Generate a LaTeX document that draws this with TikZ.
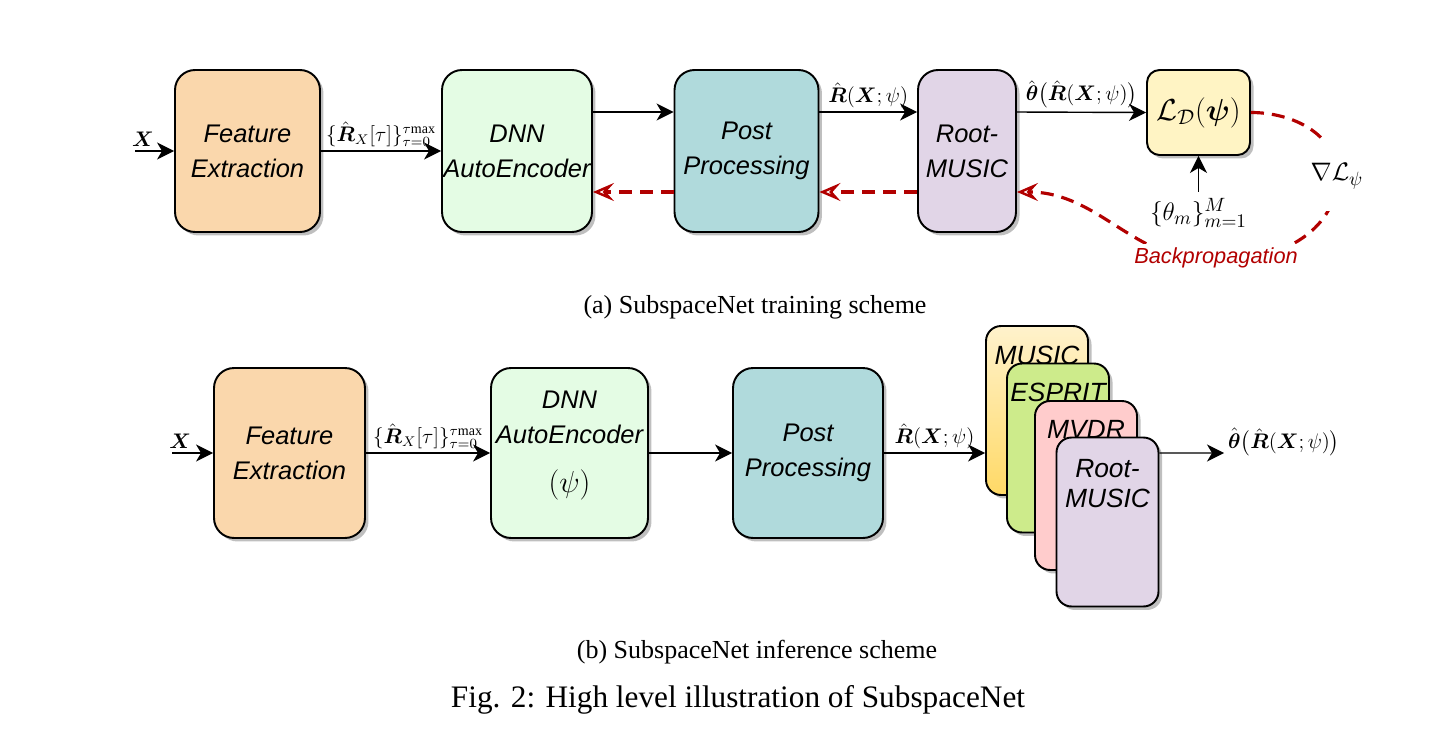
\documentclass[tikz,border=0pt]{standalone}
\usepackage{amsmath}
\usepackage{fontspec}
\setmainfont{Liberation Serif}
\setsansfont{Liberation Sans}
\usetikzlibrary{arrows.meta,shadows}
\definecolor{featfill}{HTML}{FAD7AC}
\definecolor{dnnfill}{HTML}{E4FCE4}
\definecolor{postfill}{HTML}{B0DADC}
\definecolor{rootfill}{HTML}{E1D5E7}
\definecolor{lossfill}{HTML}{FFF4C4}
\definecolor{musictop}{HTML}{FFF2CC}
\definecolor{musicbot}{HTML}{FFD966}
\definecolor{espritfill}{HTML}{CDEB8B}
\definecolor{mvdrfill}{HTML}{FFCCCC}
\definecolor{bpred}{HTML}{B20000}
\begin{document}
\begin{tikzpicture}[x=0.02cm,y=-0.02cm,
    block/.style={draw,line width=1.1pt,rounded corners=0.4cm,align=center,inner sep=0pt,
      font=\sffamily\itshape\fontsize{14.5}{20}\selectfont,
      drop shadow={shadow xshift=0.07cm,shadow yshift=-0.07cm,fill=black!50,opacity=0.5}},
    algo/.style={block,rounded corners=0.3cm,minimum width=2.04cm,minimum height=3.38cm},
    algolabel/.style={anchor=center,align=center,font=\sffamily\itshape\fontsize{15}{17.5}\selectfont},
    flow/.style={-{Stealth[length=0.34cm,width=0.34cm,inset=0.1cm]},line width=0.8pt},
    back/.style={-{Stealth[open,length=0.42cm,width=0.36cm,inset=0.16cm,line width=1.4pt]},
      draw=bpred,line width=1.8pt,dash pattern=on 0.26cm off 0.16cm},
    lab/.style={font=\fontsize{12}{14}\selectfont,inner sep=2pt},
    biglab/.style={font=\fontsize{15}{17}\selectfont},
    subcap/.style={font=\fontsize{14.8}{17}\selectfont}]
  \useasboundingbox (0,0) rectangle (1450,730);

  \node[block,fill=featfill,minimum width=2.9cm,minimum height=3.24cm] (fe) at (247.5,151) {Feature\\Extraction};
  \node[block,fill=dnnfill,minimum width=3.0cm,minimum height=3.24cm] (dnn) at (517,151) {DNN\\AutoEncoder};
  \node[block,fill=postfill,minimum width=2.88cm,minimum height=3.24cm] (post) at (746.5,151) {Post\\Processing};
  \node[block,fill=rootfill,minimum width=1.96cm,minimum height=3.24cm] (rm) at (967,151) {Root-\\MUSIC};
  \node[block,fill=lossfill,rounded corners=0.25cm,minimum width=2.06cm,minimum height=1.7cm,
    font=\fontsize{17}{20}\selectfont] (loss) at (1198.5,112.5) {$\mathcal{L}_{\mathcal{D}}(\boldsymbol{\psi})$};
  \node[biglab] (thetas) at (1198.5,213) {$\{\theta_m\}_{m=1}^{M}$};
  \coordinate (xin) at (135,151);
  \coordinate (gpt) at (1337,176);
  \coordinate (bpt) at (1216,262);

  \begin{scope}[flow]
    \draw (xin) -- node[lab,above,pos=0.2] {$\boldsymbol{X}$} (fe);
    \draw (fe) -- node[lab,above] {$\{\hat{\boldsymbol{R}}_X[\tau]\}_{\tau=0}^{\tau\mathrm{max}}$} (dnn);
    \draw ([yshift=0.78cm]dnn.east) -- ([yshift=0.78cm]post.west);
    \draw ([yshift=0.78cm]post.east) -- node[lab,above] {$\hat{\boldsymbol{R}}(\boldsymbol{X};\psi)$} ([yshift=0.78cm]rm.west);
    \draw ([yshift=0.78cm]rm.east) -- node[lab,above] {$\hat{\boldsymbol{\theta}}\big(\hat{\boldsymbol{R}}(\boldsymbol{X};\psi)\big)$} (loss.west);
    \draw (thetas) -- (loss.south);
  \end{scope}
  \begin{scope}[back]
    \draw ([yshift=-0.82cm]post.west) -- ([yshift=-0.82cm]dnn.east);
    \draw ([yshift=-0.82cm]rm.west) -- ([yshift=-0.82cm]post.east);
    \draw (loss.east) to[out=0,in=90] (gpt) to[out=-90,in=0] (bpt) to[out=180,in=0] ([yshift=-0.82cm]rm.east);
  \end{scope}
  \node[biglab,fill=white,inner xsep=2pt,inner ysep=0.45cm] (grad) at (gpt) {$\nabla\mathcal{L}_\psi$};
  \node[fill=white,text=bpred,inner sep=2pt,font=\sffamily\itshape\fontsize{12.4}{14}\selectfont] (bp) at (1216,258) {Backpropagation};
  \node[subcap] (capa) at (755,307) {(a) SubspaceNet training scheme};

  \node[block,fill=featfill,minimum width=3.02cm,minimum height=3.4cm] (fe2) at (289.5,453) {Feature\\Extraction};
  \node[block,fill=dnnfill,minimum width=3.14cm,minimum height=3.4cm,text depth=0.45cm] (dnn2) at (569.5,453)
    {DNN\\AutoEncoder\\[0.28cm]{\upshape\fontsize{17}{20}\selectfont$(\psi)$}};
  \node[block,fill=postfill,minimum width=3.0cm,minimum height=3.4cm] (post2) at (808,453) {Post\\Processing};
  \node[algo,top color=musictop,bottom color=musicbot,label={[algolabel,yshift=-0.6cm]north:MUSIC}] (music) at (1037,410.5) {};
  \node[algo,fill=espritfill,label={[algolabel,yshift=-0.6cm]north:ESPRIT}] (esprit) at (1058,448) {};
  \node[algo,fill=mvdrfill,label={[algolabel,yshift=-0.58cm]north:MVDR}] (mvdr) at (1086,485.5) {};
  \node[algo,fill=rootfill,label={[algolabel,yshift=-0.94cm]north:{Root-\\MUSIC}}] (rm2) at (1107.5,522) {};
  \coordinate (xin2) at (172,453);
  \coordinate (outpt) at (1224,453);

  \begin{scope}[flow]
    \draw (xin2) -- node[lab,above,pos=0.2] {$\boldsymbol{X}$} (fe2);
    \draw (fe2) -- node[lab,above] {$\{\hat{\boldsymbol{R}}_X[\tau]\}_{\tau=0}^{\tau\mathrm{max}}$} (dnn2);
    \draw (dnn2) -- (post2);
    \draw (post2) -- node[lab,above] {$\hat{\boldsymbol{R}}(\boldsymbol{X};\psi)$} (post2 -| music.west);
    \draw ([yshift=1.38cm]rm2.east) -- (outpt) node[lab,anchor=west,yshift=0.22cm] {$\hat{\boldsymbol{\theta}}\big(\hat{\boldsymbol{R}}(\boldsymbol{X};\psi)\big)$};
  \end{scope}
  \node[subcap] (capb) at (757,652) {(b) SubspaceNet inference scheme};
  \node[font=\fontsize{17.8}{20}\selectfont] (figcap) at (738,700) {Fig. 2: High level illustration of SubspaceNet};
\end{tikzpicture}
\end{document}
